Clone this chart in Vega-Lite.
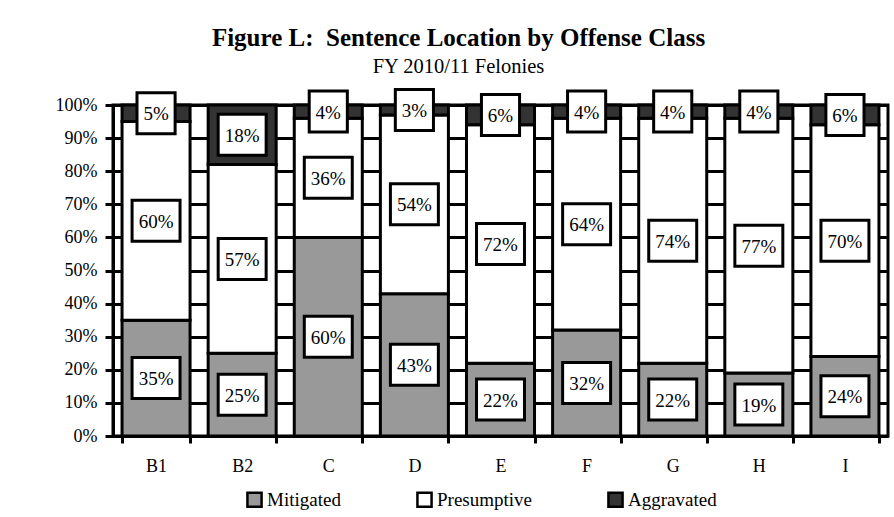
{
  "$schema": "https://vega.github.io/schema/vega-lite/v6.json",
  "autosize": {"type": "none"},
  "width": 775,
  "height": 331,
  "padding": {"left": 113, "top": 105, "right": 6, "bottom": 81},
  "background": "white",
  "title": {
    "text": "Figure L:\u00a0 Sentence Location by Offense Class",
    "subtitle": "FY 2010/11 Felonies",
    "font": "Liberation Serif",
    "fontSize": 25,
    "fontWeight": "bold",
    "color": "black",
    "subtitleFont": "Liberation Serif",
    "subtitleFontSize": 20.5,
    "subtitleColor": "black",
    "subtitlePadding": 6,
    "anchor": "middle",
    "frame": "group",
    "dx": -42,
    "offset": 6
  },
  "data": {
    "values": [
      {"cls": "B1", "type": "Mitigated", "value": 35},
      {"cls": "B1", "type": "Presumptive", "value": 60},
      {"cls": "B1", "type": "Aggravated", "value": 5},
      {"cls": "B2", "type": "Mitigated", "value": 25},
      {"cls": "B2", "type": "Presumptive", "value": 57},
      {"cls": "B2", "type": "Aggravated", "value": 18},
      {"cls": "C", "type": "Mitigated", "value": 60},
      {"cls": "C", "type": "Presumptive", "value": 36},
      {"cls": "C", "type": "Aggravated", "value": 4},
      {"cls": "D", "type": "Mitigated", "value": 43},
      {"cls": "D", "type": "Presumptive", "value": 54},
      {"cls": "D", "type": "Aggravated", "value": 3},
      {"cls": "E", "type": "Mitigated", "value": 22},
      {"cls": "E", "type": "Presumptive", "value": 72},
      {"cls": "E", "type": "Aggravated", "value": 6},
      {"cls": "F", "type": "Mitigated", "value": 32},
      {"cls": "F", "type": "Presumptive", "value": 64},
      {"cls": "F", "type": "Aggravated", "value": 4},
      {"cls": "G", "type": "Mitigated", "value": 22},
      {"cls": "G", "type": "Presumptive", "value": 74},
      {"cls": "G", "type": "Aggravated", "value": 4},
      {"cls": "H", "type": "Mitigated", "value": 19},
      {"cls": "H", "type": "Presumptive", "value": 77},
      {"cls": "H", "type": "Aggravated", "value": 4},
      {"cls": "I", "type": "Mitigated", "value": 24},
      {"cls": "I", "type": "Presumptive", "value": 70},
      {"cls": "I", "type": "Aggravated", "value": 6}
    ]
  },
  "transform": [
    {"calculate": "indexof(['Mitigated','Presumptive','Aggravated'], datum.type)", "as": "k"},
    {"stack": "value", "groupby": ["cls"], "sort": [{"field": "k", "order": "ascending"}], "as": ["y0", "y1"]},
    {"calculate": "(datum.y0 + datum.y1) / 2", "as": "mid"},
    {"calculate": "datum.value + '%'", "as": "lbl"}
  ],
  "encoding": {
    "x": {
      "field": "cls",
      "type": "nominal",
      "sort": null,
      "scale": {"paddingInner": 0.21, "paddingOuter": 0.105},
      "axis": {
        "title": null,
        "labelAngle": 0,
        "labelFont": "Liberation Serif",
        "labelFontSize": 18,
        "labelColor": "black",
        "labelPadding": 14,
        "tickBand": "extent",
        "tickColor": "black",
        "tickWidth": 3,
        "tickSize": 7,
        "domainColor": "black",
        "domainWidth": 3,
        "grid": false
      }
    }
  },
  "layer": [
    {
      "mark": {"type": "bar", "stroke": "black", "strokeWidth": 3, "opacity": 1},
      "encoding": {
        "y": {
          "field": "y0",
          "type": "quantitative",
          "scale": {"domain": [0, 100], "nice": false},
          "axis": {"title": null, "values": [0, 10, 20, 30, 40, 50, 60, 70, 80, 90, 100], "labelExpr": "datum.value + '%'"}
        },
        "y2": {"field": "y1"},
        "color": {
          "field": "type",
          "type": "nominal",
          "scale": {
            "domain": ["Mitigated", "Presumptive", "Aggravated"],
            "range": ["#999999", "#ffffff", "#333333"]
          },
          "legend": {
            "title": null,
            "orient": "none",
            "direction": "horizontal",
            "legendX": 132,
            "legendY": 385,
            "padding": 0,
            "symbolType": "square",
            "symbolSize": 200,
            "symbolStrokeColor": "black",
            "symbolStrokeWidth": 2.5,
            "symbolOpacity": 1,
            "labelFont": "Liberation Serif",
            "labelFontSize": 19,
            "labelColor": "black",
            "labelOffset": 3,
            "columnPadding": 71
          }
        }
      }
    },
    {
      "mark": {"type": "point", "filled": true, "fill": "white", "stroke": "black", "strokeWidth": 3, "opacity": 1, "size": 1681},
      "encoding": {
        "y": {
          "field": "mid",
          "type": "quantitative",
          "axis": {"title": null, "values": [0, 10, 20, 30, 40, 50, 60, 70, 80, 90, 100], "labelExpr": "datum.value + '%'"}
        },
        "shape": {
          "condition": {"test": "datum.value < 10", "value": "M-0.93,-1H0.93V1H-0.93Z"},
          "value": "M-1.17,-1H1.17V1H-1.17Z"
        }
      }
    },
    {
      "mark": {"type": "text", "font": "Liberation Serif", "fontSize": 19, "color": "black", "baseline": "middle", "dy": 1},
      "encoding": {
        "y": {
          "field": "mid",
          "type": "quantitative",
          "axis": {"title": null, "values": [0, 10, 20, 30, 40, 50, 60, 70, 80, 90, 100], "labelExpr": "datum.value + '%'"}
        },
        "text": {"field": "lbl"}
      }
    }
  ],
  "config": {
    "font": "Liberation Serif",
    "view": {"stroke": "black", "strokeWidth": 3},
    "axisY": {
      "labelFont": "Liberation Serif",
      "labelFontSize": 18,
      "labelColor": "black",
      "labelPadding": 8,
      "labelOverlap": false,
      "tickColor": "black",
      "tickWidth": 3,
      "tickSize": 8,
      "domainColor": "black",
      "domainWidth": 3,
      "grid": true,
      "gridColor": "black",
      "gridWidth": 3,
      "gridOpacity": 1
    }
  }
}
